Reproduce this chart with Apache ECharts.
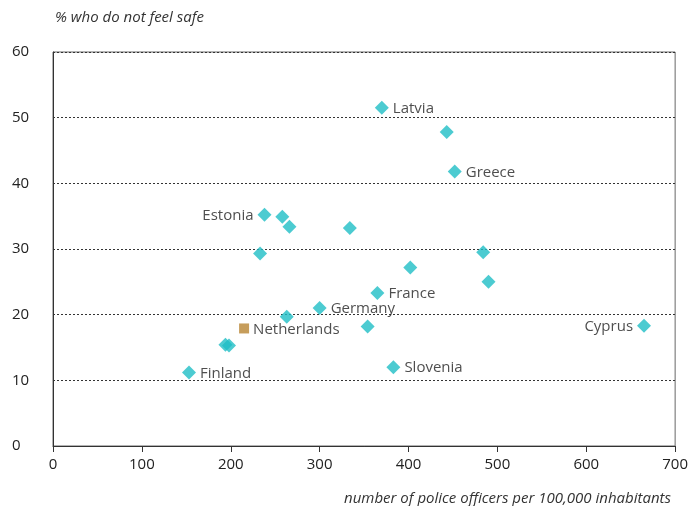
<!DOCTYPE html>
<html>
<head>
<meta charset="utf-8">
<script src="https://cdn.jsdelivr.net/npm/echarts@6/dist/echarts.min.js"></script>
<style>html,body{margin:0;padding:0;background:#fff}#c{width:691px;height:506px}</style>
</head>
<body>
<div id="c"></div>
<script>
var countryNames = ['Latvia', '', 'Greece', 'Estonia', '', '', '', '', '', '', '', 'France', 'Germany', '', '', 'Cyprus', '', '', 'Slovenia', 'Finland'];
var policeOfficers = [370, 443, 452, 238, 258, 266, 334, 233, 484, 402, 490, 365, 300, 263, 354, 665, 194, 198, 383, 153];
var notSafe = [51.5, 47.8, 41.8, 35.2, 34.9, 33.4, 33.2, 29.3, 29.5, 27.2, 25.0, 23.3, 21.0, 19.7, 18.2, 18.3, 15.4, 15.3, 12.0, 11.2];
var labelLeft = ['Estonia', 'Cyprus'];
var highlightName = 'Netherlands';
var highlightX = 215;
var highlightY = 17.9;
var xTicks = [0, 100, 200, 300, 400, 500, 600, 700];
var yTicks = [0, 10, 20, 30, 40, 50, 60];

var font = '"Open Sans", sans-serif';
var fs = 15;
var mainData = countryNames.map(function (n, i) {
  var left = labelLeft.indexOf(n) >= 0;
  return {
    name: n,
    value: [policeOfficers[i], notSafe[i]],
    label: { show: n !== '', position: left ? 'left' : 'right', formatter: '{b}', distance: 4, offset: [0, 1] }
  };
});

var chart = echarts.init(document.getElementById('c'));
chart.setOption({
  animation: false,
  textStyle: { fontFamily: font },
  grid: { left: 53, right: 15, top: 52, bottom: 60, show: true, borderColor: '#666', borderWidth: 1 },
  title: [
    { text: '% who do not feel safe', left: 50, top: 5, textStyle: { fontFamily: font, fontStyle: 'italic', fontWeight: 'normal', fontSize: fs, color: '#333' } },
    { text: 'number of police officers per 100,000 inhabitants', right: 15, top: 486, textStyle: { fontFamily: font, fontStyle: 'italic', fontWeight: 'normal', fontSize: fs, color: '#333' } }
  ],
  xAxis: {
    type: 'value', min: xTicks[0], max: xTicks[xTicks.length - 1], interval: 100,
    axisLine: { show: true, lineStyle: { color: '#333', width: 1 } },
    axisTick: { show: true, length: 6, lineStyle: { color: '#333' } },
    axisLabel: { color: '#222', fontSize: fs, margin: 11, fontFamily: font },
    splitLine: { show: false }
  },
  yAxis: {
    type: 'value', min: yTicks[0], max: yTicks[yTicks.length - 1], interval: 10,
    axisLine: { show: true, lineStyle: { color: '#333', width: 1 } },
    axisTick: { show: false },
    axisLabel: { color: '#222', fontSize: fs, align: 'left', margin: 41, fontFamily: font },
    splitLine: { show: true, lineStyle: { color: '#333', type: [2, 2], width: 1 } }
  },
  series: [
    {
      type: 'scatter', symbol: 'diamond', symbolSize: 14,
      itemStyle: { color: '#1fbec6' },
      label: { color: '#222', fontSize: fs, fontFamily: font },
      data: mainData
    },
    {
      type: 'scatter', symbol: 'rect', symbolSize: 10,
      itemStyle: { color: '#b88532' },
      label: { show: true, position: 'right', formatter: '{b}', color: '#222', fontSize: fs, fontFamily: font, distance: 4, offset: [0, 1] },
      data: [{ name: highlightName, value: [highlightX, highlightY] }]
    }
  ]
});
</script>
</body>
</html>
